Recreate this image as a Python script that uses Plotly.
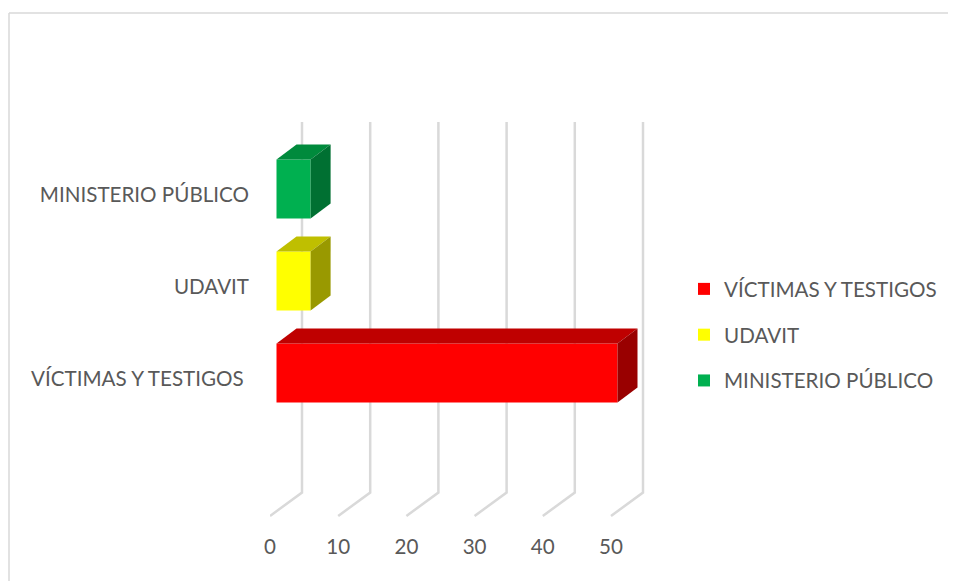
import plotly.graph_objects as go

categories = ["VÍCTIMAS Y TESTIGOS", "UDAVIT", "MINISTERIO PÚBLICO"]
values = [50, 5, 5]
x_ticks = [0, 10, 20, 30, 40, 50]
front_colors = ["#FF0000", "#FFFF00", "#00B050"]
top_colors = ["#BF0000", "#BFBF00", "#008A3C"]
side_colors = ["#990000", "#999900", "#007032"]

FONT = "Lato"
TXT = "#595959"
GRID = "#D9D9D9"
FS = 20.6
OFF = 8  # page body margin
W, H = 956 - OFF, 581 - OFF
# plot rectangle in figure pixels
L, R, T, B = 270 - OFF, 650 - OFF, 110 - OFF, 530 - OFF
PX_X = 6.82   # pixels per value unit
PX_Y = 92.0   # pixels per category step
BAR_W = 59 / PX_Y
xmax = (R - L) / PX_X
ylo, yhi = (379 - 530) / PX_Y, (379 - 110) / PX_Y
# bars sit slightly right of / above the axis planes
sx, sy = 6.5 / PX_X, 6 / PX_Y
bar_dx, bar_dy = 20 / PX_X, 15 / PX_Y
grid_dx = 32 / PX_X
floor_back, floor_front, wall_top = (379 - 492.5) / PX_Y, (379 - 516) / PX_Y, (379 - 122) / PX_Y

fig = go.Figure()

# floor and back-wall gridlines
for t in x_ticks:
    fig.add_trace(go.Scatter(
        x=[t, t + grid_dx, t + grid_dx], y=[floor_front, floor_back, wall_top],
        mode="lines", line=dict(color=GRID, width=2.5), showlegend=False,
        hoverinfo="skip", xaxis="x", yaxis="y"))

# 3D faces of the bars
for i, v in enumerate(values):
    lo, hi = i - BAR_W / 2, i + BAR_W / 2
    fig.add_trace(go.Scatter(
        x=[0, v, v + bar_dx, bar_dx, 0], y=[hi, hi, hi + bar_dy, hi + bar_dy, hi],
        mode="lines", fill="toself", fillcolor=top_colors[i], line=dict(width=0),
        showlegend=False, hoverinfo="skip", xaxis="x2", yaxis="y2"))
    fig.add_trace(go.Scatter(
        x=[v, v + bar_dx, v + bar_dx, v, v], y=[hi, hi + bar_dy, lo + bar_dy, lo, hi],
        mode="lines", fill="toself", fillcolor=side_colors[i], line=dict(width=0),
        showlegend=False, hoverinfo="skip", xaxis="x2", yaxis="y2"))

# front faces, also the legend entries
for i, (c, v) in enumerate(zip(categories, values)):
    fig.add_trace(go.Bar(
        x=[v], y=[i], orientation="h", width=BAR_W, name=c,
        marker=dict(color=front_colors[i], line=dict(width=0)),
        legendgroup=c, xaxis="x2", yaxis="y2"))

fig.update_layout(
    width=W, height=H, autosize=False,
    margin=dict(l=L, r=W - R, t=T, b=H - B, pad=0, autoexpand=False),
    paper_bgcolor="white", plot_bgcolor="rgba(0,0,0,0)",
    font=dict(family=FONT, size=FS, color=TXT),
    barmode="overlay",
    showlegend=True,
    legend=dict(
        x=(684 - OFF - L) / (R - L), xanchor="left",
        y=(530 - 335) / (530 - 110), yanchor="middle",
        bgcolor="rgba(0,0,0,0)", tracegroupgap=16, traceorder="grouped",
        font=dict(family=FONT, size=FS, color=TXT), itemwidth=30),
    xaxis=dict(range=[0, xmax], tickmode="array", tickvals=x_ticks,
               showgrid=False, zeroline=False, showline=False, ticks="",
               ticklabelstandoff=2, tickfont=dict(family=FONT, size=FS, color=TXT)),
    yaxis=dict(range=[ylo, yhi], tickmode="array", tickvals=[0, 1, 2],
               ticktext=[categories[0] + "\u00a0", categories[1], categories[2]],
               showgrid=False, zeroline=False, showline=False, ticks="",
               ticklabelstandoff=20, tickfont=dict(family=FONT, size=FS, color=TXT)),
    xaxis2=dict(range=[-sx, xmax - sx], overlaying="x", visible=False, anchor="y2"),
    yaxis2=dict(range=[ylo - sy, yhi - sy], overlaying="y", visible=False, anchor="x2"),
    shapes=[
        dict(type="line", xref="paper", yref="paper",
             x0=(1 - L) / (R - L), x1=(W + 8 - L) / (R - L),
             y0=(B - 5) / (B - T), y1=(B - 5) / (B - T),
             line=dict(color="#D9D9D9", width=1.5)),
        dict(type="line", xref="paper", yref="paper",
             x0=(1 - L) / (R - L), x1=(1 - L) / (R - L),
             y0=(B - 5) / (B - T), y1=(B - H) / (B - T),
             line=dict(color="#D9D9D9", width=1.5)),
    ],
)

fig.write_html("out.html")
